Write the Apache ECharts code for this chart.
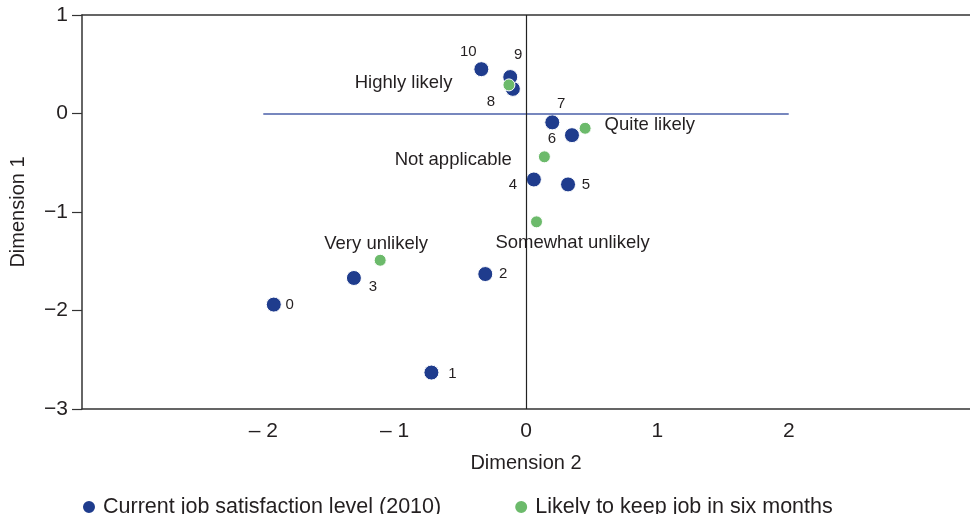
<!DOCTYPE html>
<html>
<head>
<meta charset="utf-8">
<title>Dimensions</title>
<script src="https://cdn.jsdelivr.net/npm/echarts@6/dist/echarts.min.js"></script>
<style>
  html, body { margin: 0; padding: 0; background: #fff; }
  #main_chart { width: 970px; height: 514px; }
</style>
</head>
<body>
<div id="main_chart"></div>
<script>
// satisfaction levels 0..10 (blue)
var levelNames = ['0', '1', '2', '3', '4', '5', '6', '7', '8', '9', '10'];
var levelDim2 = [-1.92, -0.72, -0.31, -1.31, 0.06, 0.32, 0.35, 0.20, -0.10, -0.12, -0.34];
var levelDim1 = [-1.94, -2.63, -1.63, -1.67, -0.67, -0.72, -0.22, -0.09, 0.25, 0.37, 0.45];

// likely to keep job (green)
var keepNames = ['Highly likely', 'Quite likely', 'Not applicable', 'Somewhat unlikely', 'Very unlikely'];
var keepDim2 = [-0.13, 0.45, 0.14, 0.08, -1.11];
var keepDim1 = [0.29, -0.15, -0.44, -1.10, -1.49];

var xTicks = [-2, -1, 0, 1, 2];

const myChart = echarts.init(document.getElementById('main_chart'));

// where each number label sits around its dot
var levelOffsets = [[16, 0], [21, 1], [18, 0], [19, 9], [-21, 5], [18, 0], [-20, 4], [9, -19], [-22, 13], [8, -22], [-13, -17]];
var keepLabels = [
    { position: 'left', distance: 50, offset: [0, -2] },
    { position: 'right', distance: 13, offset: [0, -3] },
    { position: 'left', distance: 26, offset: [0, 3] },
    { position: 'inside', offset: [36, 21] },
    { position: 'inside', offset: [-4, -16] }
];

var levelData = levelNames.map(function (n, i) {
    return {
        name: n,
        value: [levelDim2[i], levelDim1[i]],
        label: { offset: levelOffsets[i] }
    };
});
var keepData = keepNames.map(function (n, i) {
    return {
        name: n,
        value: [keepDim2[i], keepDim1[i]],
        label: keepLabels[i]
    };
});

function minus(v) {
    return v < 0 ? '\u2212' + Math.abs(v) : String(v);
}

var textColor = '#231f20';
var fontFam = 'Liberation Sans, Arial, sans-serif';
var axisColor = '#333';

var option = {
    animation: false,
    textStyle: { fontFamily: fontFam },
    grid: { left: 80, right: 0, top: 15, bottom: 105 },
    legend: {
        left: 76, top: 491,
        icon: 'circle', itemWidth: 14, itemHeight: 14,
        itemGap: 72,
        textStyle: { fontSize: 21.5, color: textColor, fontFamily: fontFam, padding: [0, 0, 0, 2] },
        data: ['Current job satisfaction level (2010)', 'Likely to keep job in six months']
    },
    xAxis: [
        {
            type: 'value',
            min: -3.38, max: 3.38,
            name: 'Dimension 2',
            nameLocation: 'middle',
            nameGap: 44,
            nameTextStyle: { fontSize: 20, color: textColor },
            axisLine: { onZero: false, lineStyle: { color: axisColor, width: 1.5 } },
            axisTick: { show: false },
            splitLine: { show: false },
            axisLabel: {
                customValues: xTicks,
                fontSize: 21, color: textColor, margin: 12,
                formatter: function (v) { return v < 0 ? '\u2013 ' + Math.abs(v) : String(v); }
            }
        },
        {
            // top border only
            type: 'value',
            position: 'top',
            min: -3.38, max: 3.38,
            axisLine: { onZero: false, lineStyle: { color: axisColor, width: 1.5 } },
            axisTick: { show: false },
            axisLabel: { show: false },
            splitLine: { show: false }
        }
    ],
    yAxis: {
        type: 'value',
        min: -3, max: 1, interval: 1,
        name: 'Dimension 1',
        nameLocation: 'middle',
        nameGap: 54,
        nameTextStyle: { fontSize: 20, color: textColor },
        axisLine: { show: true, onZero: false, lineStyle: { color: axisColor, width: 1.5 } },
        axisTick: { show: true, length: 10, lineStyle: { color: axisColor, width: 1.2 } },
        splitLine: { show: false },
        axisLabel: { fontSize: 21, color: textColor, margin: 14, formatter: minus }
    },
    series: [
        {
            name: 'Current job satisfaction level (2010)',
            type: 'scatter',
            symbolSize: 15,
            itemStyle: { color: '#1f3c8d', borderColor: '#fff', borderWidth: 1, opacity: 1 },
            label: {
                show: true, position: 'inside',
                formatter: '{b}', fontSize: 15, color: textColor, opacity: 1
            },
            markLine: {
                silent: true, symbol: 'none',
                label: { show: false },
                data: [
                    [{ coord: [-2, 0], lineStyle: { color: '#4a5fa8', width: 1.5, type: 'solid', opacity: 1 } }, { coord: [2, 0] }],
                    { xAxis: 0, lineStyle: { color: '#222', width: 1.2, type: 'solid', opacity: 1 } }
                ]
            },
            data: levelData
        },
        {
            name: 'Likely to keep job in six months',
            type: 'scatter',
            symbolSize: 12,
            z: 3,
            itemStyle: { color: '#6cba6b', borderColor: '#fff', borderWidth: 1, opacity: 1 },
            label: {
                show: true,
                formatter: '{b}', fontSize: 18.5, color: textColor, opacity: 1
            },
            data: keepData
        }
    ]
};

myChart.setOption(option);
window.onresize = function () {
    myChart.resize();
};
</script>
</body>
</html>
